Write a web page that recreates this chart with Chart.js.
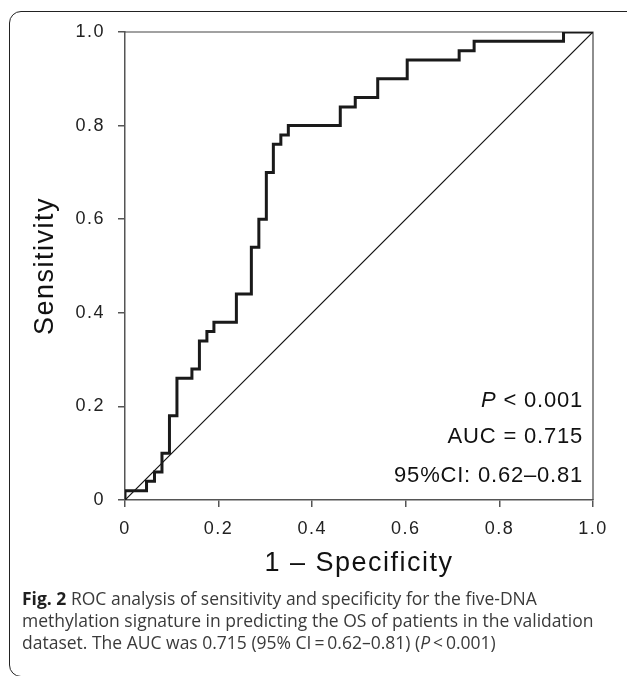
<!doctype html>
<html>

<head>
    <title>ROC curve</title>
    <script src="https://cdn.jsdelivr.net/npm/chart.js@4.4.0/dist/chart.umd.min.js"></script>
    <style>
    body { margin: 0; background: #fff; width: 627px; height: 676px; overflow: hidden; position: relative; }
    #frame { position: absolute; left: 9px; top: 11px; width: 700px; height: 666px; border: 1.5px solid #222; border-radius: 12px; box-sizing: border-box; }
    #wrap { position: absolute; left: 0; top: 0; width: 627px; height: 590px; }
    .cap { position: absolute; left: 22px; font-family: "Open Sans", sans-serif; font-size: 17.5px; line-height: 22px; color: #3a3a3a; white-space: nowrap; }
    .cap b { color: #1f1f1f; }
    </style>
</head>

<body>
    <div id="frame"></div>
    <div id="wrap"><canvas id="myChart" width="627" height="590"></canvas></div>
    <div class="cap" style="top:587px"><b>Fig. 2</b> ROC analysis of sensitivity and specificity for the five-DNA</div>
    <div class="cap" style="top:609px">methylation signature in predicting the OS of patients in the validation</div>
    <div class="cap" style="top:631px">dataset. The AUC was 0.715 (95% CI&thinsp;=&thinsp;0.62&ndash;0.81) (<i>P</i>&thinsp;&lt;&thinsp;0.001)</div>
    <script>
    // ROC corner points (1 - specificity, sensitivity), drawn as steps
    var fpr = [0, 0, 0.046, 0.063, 0.079, 0.095, 0.111, 0.143, 0.159, 0.175, 0.190, 0.238, 0.270,
               0.286, 0.302, 0.317, 0.333, 0.349, 0.460, 0.492, 0.540, 0.603, 0.714, 0.746, 0.937, 1.0];
    var tpr = [0, 0.02, 0.04, 0.06, 0.10, 0.18, 0.26, 0.28, 0.34, 0.36, 0.38, 0.44, 0.54,
               0.60, 0.70, 0.76, 0.78, 0.80, 0.84, 0.86, 0.90, 0.94, 0.96, 0.98, 1.0, 1.0];
    // reference diagonal
    var chanceX = [0, 1];
    var chanceY = [0, 1];

    var tickValues = [0, 0.2, 0.4, 0.6, 0.8, 1.0];
    var tickLabels = ['0', '0.2', '0.4', '0.6', '0.8', '1.0'];

    var pLabel = 'P';
    var pText = ' < 0.001';
    var statLines = ['AUC = 0.715', '95%CI: 0.62\u20130.81'];

    var FONT = '"Liberation Sans", Arial, sans-serif';

    function toPoints(xs, ys) {
        return xs.map(function(x, i) { return {x: x, y: ys[i]}; });
    }

    function tickText(value) {
        for (var i = 0; i < tickValues.length; i++) {
            if (Math.abs(tickValues[i] - value) < 1e-6) return tickLabels[i];
        }
        return '';
    }

    var rocExtras = {
        id: 'rocExtras',
        beforeDraw: function(chart) {
            chart.ctx.letterSpacing = '1.5px';
        },
        beforeDatasetsDraw: function(chart) {
            var a = chart.chartArea, ctx = chart.ctx;
            ctx.save();
            ctx.strokeStyle = '#444';
            ctx.lineWidth = 1.2;
            ctx.beginPath();
            ctx.moveTo(a.left, a.top);
            ctx.lineTo(a.right, a.top);
            ctx.lineTo(a.right, a.bottom);
            ctx.stroke();
            ctx.restore();
        },
        afterDraw: function(chart) {
            var a = chart.chartArea, ctx = chart.ctx;
            var x = a.right - 10;
            ctx.save();
            ctx.letterSpacing = '0.8px';
            ctx.fillStyle = '#111';
            ctx.textAlign = 'right';
            ctx.textBaseline = 'alphabetic';
            ctx.font = '22px ' + FONT;
            var w = ctx.measureText(pText).width;
            ctx.fillText(pText, x, a.bottom - 93);
            ctx.font = 'italic 22px ' + FONT;
            ctx.fillText(pLabel, x - w, a.bottom - 93);
            ctx.font = '22px ' + FONT;
            ctx.fillText(statLines[0], x, a.bottom - 57);
            ctx.fillText(statLines[1], x, a.bottom - 18);
            ctx.restore();
        }
    };

    function drawGraph() {
        var ctx = document.getElementById('myChart').getContext('2d');
        var axisColor = '#555';
        var chart = new Chart(ctx, {
            type: 'line',
            data: {
                datasets: [{
                    label: 'ROC',
                    data: toPoints(fpr, tpr),
                    stepped: 'before',
                    borderColor: '#1a1a1a',
                    borderWidth: 3,
                    pointRadius: 0,
                    fill: false
                }, {
                    label: 'Chance',
                    data: toPoints(chanceX, chanceY),
                    borderColor: '#111',
                    borderWidth: 1.2,
                    pointRadius: 0,
                    fill: false
                }]
            },
            options: {
                responsive: false,
                animation: false,
                devicePixelRatio: 1,
                layout: { padding: { top: 32, right: 34, left: 0, bottom: 0 } },
                plugins: { legend: { display: false }, tooltip: { enabled: false } },
                scales: {
                    x: {
                        type: 'linear', min: 0, max: 1,
                        afterFit: function(s) { s.height = 90; },
                        afterBuildTicks: function(s) { s.ticks = tickValues.map(function(v) { return {value: v}; }); },
                        grid: { drawOnChartArea: false, tickLength: 7, color: axisColor, lineWidth: 1.5 },
                        border: { display: true, color: axisColor, width: 1.5 },
                        ticks: { color: '#222', padding: 11, maxRotation: 0, font: { family: FONT, size: 18 }, callback: tickText },
                        title: { display: true, text: '1 \u2013 Specificity', color: '#111', font: { family: FONT, size: 27 }, padding: { top: 0, bottom: 10 } }
                    },
                    y: {
                        type: 'linear', min: 0, max: 1,
                        afterFit: function(s) { s.width = 125; },
                        afterBuildTicks: function(s) { s.ticks = tickValues.map(function(v) { return {value: v}; }); },
                        grid: { drawOnChartArea: false, tickLength: 7, color: axisColor, lineWidth: 1.5 },
                        border: { display: true, color: axisColor, width: 1.5 },
                        ticks: { color: '#222', padding: 13, font: { family: FONT, size: 18 }, callback: tickText },
                        title: { display: true, text: 'Sensitivity', color: '#111', font: { family: FONT, size: 27 }, padding: { top: 29, bottom: 0 } }
                    }
                }
            },
            plugins: [rocExtras]
        });
    }

    window.onload = function() {
        drawGraph();
    };
    </script>
</body>

</html>
